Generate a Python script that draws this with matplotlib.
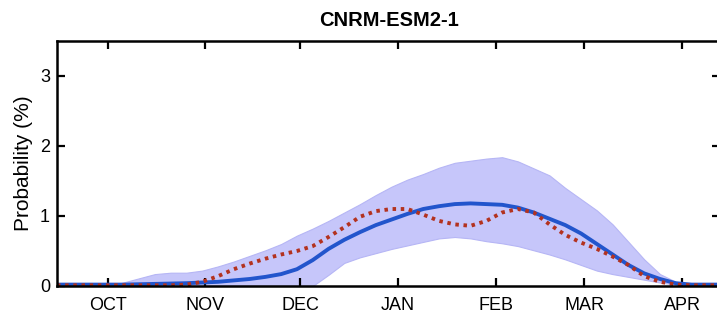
import numpy as np
import matplotlib.pyplot as plt

plt.rcParams['font.family'] = ['Liberation Sans', 'DejaVu Sans']

# days since 1 Oct
days = [-16, -10, -5, 0, 5, 10, 15, 20, 25, 30, 35, 40, 45, 50, 55, 60, 65, 70,
        75, 80, 85, 90, 95, 100, 105, 110, 115, 120, 125, 130, 135, 140, 145,
        150, 155, 160, 165, 170, 175, 180, 185, 190, 194]

# ensemble mean (blue)
model_mean = [0.02, 0.02, 0.02, 0.02, 0.02, 0.025, 0.03, 0.035, 0.04, 0.05, 0.06,
              0.08, 0.10, 0.13, 0.17, 0.24, 0.37, 0.53, 0.66, 0.77, 0.87, 0.95,
              1.03, 1.10, 1.14, 1.17, 1.18, 1.17, 1.16, 1.12, 1.05, 0.96, 0.87,
              0.75, 0.60, 0.45, 0.30, 0.18, 0.10, 0.04, 0.02, 0.02, 0.02]

# observed (red dotted)
obs = [0.01, 0.01, 0.01, 0.01, 0.01, 0.01, 0.01, 0.01, 0.02, 0.06, 0.14, 0.24,
       0.32, 0.39, 0.45, 0.50, 0.57, 0.70, 0.84, 0.99, 1.07, 1.10, 1.10, 1.02,
       0.93, 0.88, 0.86, 0.93, 1.05, 1.10, 1.05, 0.88, 0.73, 0.62, 0.53, 0.42,
       0.30, 0.14, 0.06, 0.02, 0.01, 0.01, 0.01]

# ensemble spread
band_hi = [0, 0, 0, 0, 0.05, 0.11, 0.17, 0.19, 0.19, 0.22, 0.28, 0.35, 0.43,
           0.51, 0.60, 0.72, 0.82, 0.93, 1.05, 1.17, 1.30, 1.42, 1.52, 1.60,
           1.69, 1.76, 1.79, 1.82, 1.84, 1.78, 1.68, 1.58, 1.40, 1.24, 1.08,
           0.88, 0.63, 0.38, 0.17, 0.06, 0.01, 0, 0]
band_lo = [0, 0, 0, 0, 0, 0, 0, 0, 0, 0, 0, 0, 0, 0, 0, 0, 0, 0.16, 0.33,
           0.41, 0.47, 0.53, 0.58, 0.63, 0.68, 0.70, 0.68, 0.64, 0.61, 0.57,
           0.51, 0.45, 0.38, 0.30, 0.22, 0.17, 0.13, 0.09, 0.05, 0.02, 0, 0, 0]

month_pos = [0, 31, 61, 92, 123, 151, 182]
month_labels = ['OCT', 'NOV', 'DEC', 'JAN', 'FEB', 'MAR', 'APR']

fig = plt.figure(figsize=(7.17, 3.16), dpi=100)
ax = fig.add_axes([57 / 717, 30 / 316, 663 / 717, 245 / 316])

ax.fill_between(days, band_lo, band_hi, color='#c6c6fa', linewidth=0.8,
                edgecolor='#b6b6f5')
ax.plot(days, model_mean, color='#2255cc', linewidth=2.8)
ax.plot(days, obs, color='#b3321f', linewidth=2.8, linestyle=(0, (0.9, 1.2)))

ax.set_xlim(-16, 194)
ax.set_ylim(0, 3.5)
ax.set_xticks(month_pos)
ax.set_xticklabels(month_labels)
ax.set_yticks([0, 1, 2, 3])
ax.tick_params(direction='in', length=6, width=1.6, labelsize=13,
               top=True, right=True)
ax.tick_params(axis='x', pad=8)
ax.tick_params(axis='y', pad=5)
for s in ax.spines.values():
    s.set_linewidth(1.8)

ax.set_ylabel('Probability (%)', fontsize=15, labelpad=5)
ax.set_title('CNRM-ESM2-1', fontsize=14.5, fontweight='bold', pad=11)

fig.savefig('out.png', dpi=100)
